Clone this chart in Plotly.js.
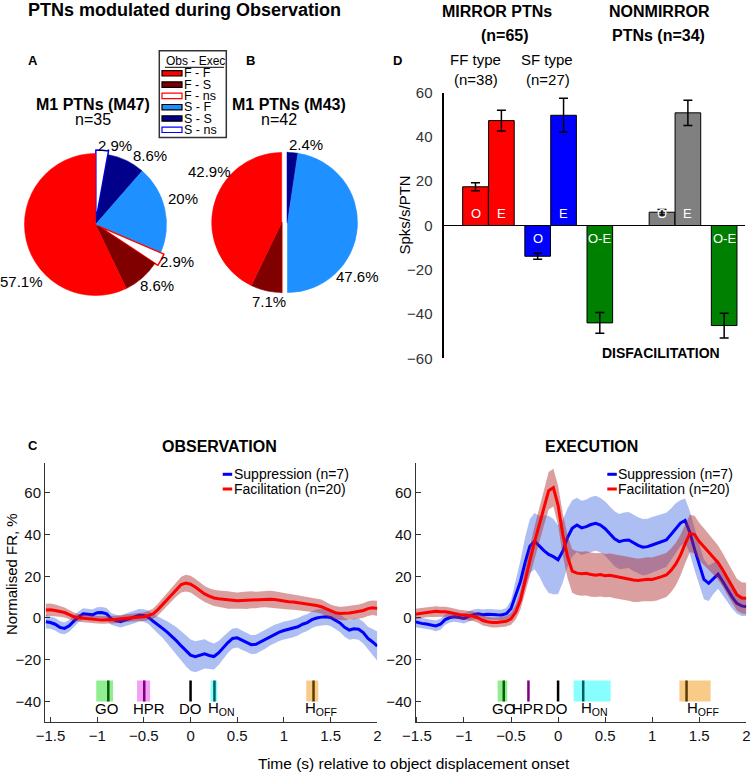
<!DOCTYPE html>
<html><head><meta charset="utf-8">
<script src="https://cdn.plot.ly/plotly-3.0.1.min.js"></script>
<style>html,body{margin:0;padding:0;background:#fff}#chart{width:753px;height:773px}</style>
</head><body><div id="chart"></div>
<script>
// ---------------- DATA ----------------
// Panels A/B: pie counts (Obs - Exec categories)
const pieLabels = ['F - F','F - S','F - ns','S - F','S - S','S - ns'];
const countsM47 = [20, 3, 1, 7, 3, 1];   // n=35
const countsM43 = [18, 3, 0, 20, 1, 0];  // n=42

// Panel D: mean firing change (spks/s/PTN) with SEM
const barLabels = ['O','E','O','E','O-E','O','E','O-E'];
const barSlots  = [1, 2, 3.4, 4.4, 5.8, 8.2, 9.2, 10.6];
const barValues = [17.5, 47.4, -13.9, 49.8, -44.0, 6.0, 50.9, -45.2];
const barErrors = [1.8, 4.7, 1.4, 7.7, 4.7, 1.2, 5.7, 5.6];

// Panel C: population averages (normalised FR, %)
const seriesNames = ['Suppression (n=7)', 'Facilitation (n=20)'];
const time = [-1.55,-1.50,-1.45,-1.40,-1.35,-1.30,-1.25,-1.20,-1.15,-1.10,-1.05,-1.00,-0.95,-0.90,-0.85,-0.80,-0.75,-0.70,-0.65,-0.60,
  -0.55,-0.50,-0.45,-0.40,-0.35,-0.30,-0.25,-0.20,-0.15,-0.10,-0.05,0.00,0.05,0.10,0.15,0.20,0.25,0.30,0.35,0.40,
  0.45,0.50,0.55,0.60,0.65,0.70,0.75,0.80,0.85,0.90,0.95,1.00,1.05,1.10,1.15,1.20,1.25,1.30,1.35,1.40,
  1.45,1.50,1.55,1.60,1.65,1.70,1.75,1.80,1.85,1.90,1.95,2.00];

const obsSupMean = [-1.8,-2.2,-3.0,-4.5,-5.0,-3.8,-1.5,0.5,2.0,1.6, 1.5,2.5,2.6,2.0,-0.4,-1.2,-1.8,-1.0,-0.2,0.5,
  1.3,1.2,0.3,-1.6,-3.5,-5.0,-6.8,-8.8,-11.0,-13.4, -15.8,-17.8,-18.6,-18.0,-17.2,-18.0,-18.5,-16.8,-14.2,-11.8,
  -9.8,-9.5,-10.6,-11.8,-12.8,-12.6,-11.4,-10.3,-8.8,-7.6, -6.8,-6.0,-5.5,-5.0,-4.2,-3.0,-2.2,-0.8,0.0,0.4,
  0.6,0.2,-1.0,-2.4,-4.5,-5.8,-5.2,-5.4,-7.0,-9.8, -11.5,-13.5];
const obsSupSem = [3.2,3.0,3.0,3.0,2.8,2.8,2.8,2.6,2.6,2.6, 2.6,2.6,2.6,2.8,2.8,2.8,2.8,3.0,3.0,3.0,
  3.0,3.0,3.2,3.5,4.0,4.5,5.2,6.0,6.6,7.0, 7.3,7.5,7.4,7.2,7.0,6.6,6.2,5.8,5.4,5.0,
  4.8,4.7,4.6,4.6,4.5,4.5,4.5,4.4,4.4,4.4, 4.3,4.3,4.2,4.2,4.2,4.1,4.0,4.0,4.0,4.0,
  4.0,4.0,4.1,4.3,4.5,4.7,4.9,5.0,5.2,5.6, 6.2,7.0];
const obsFacMean = [3.8,3.9,3.6,3.2,2.6,1.6,0.6,0.1,-0.2,-0.5, -0.7,-0.8,-1.0,-1.0,-0.9,-0.7,-0.4,-0.2,0.0,0.2,
  0.3,0.6,1.2,2.0,4.0,6.5,9.0,11.5,14.0,16.0, 16.7,16.2,14.8,13.0,11.5,10.5,9.6,9.2,9.0,8.6,
  8.5,8.3,8.4,8.5,8.7,8.6,8.9,9.1,9.0,8.8, 8.4,8.0,7.8,7.6,7.3,7.1,6.8,6.4,6.0,5.4,
  4.4,3.2,2.5,2.2,2.2,2.4,2.7,3.0,3.6,4.5, 4.9,4.6];
const obsFacSem = [3.0,3.0,2.8,2.6,2.4,2.2,2.0,1.8,1.8,1.8, 1.8,1.8,1.8,1.8,1.8,1.8,1.8,1.8,1.8,1.8,
  1.8,2.0,2.2,2.5,2.8,3.0,3.2,3.4,3.6,3.8, 4.0,4.0,4.0,3.9,3.8,3.8,3.9,4.0,4.1,4.2,
  4.0,3.9,4.0,4.2,4.1,4.0,3.9,4.0,4.1,4.0, 3.9,3.8,3.8,3.7,3.6,3.6,3.5,3.5,3.4,3.4,
  3.3,3.2,3.2,3.2,3.3,3.3,3.4,3.4,3.5,3.5, 3.5,3.6];

const exeSupMean = [-1.5,-2.2,-2.6,-2.9,-3.2,-3.8,-3.0,-0.8,0.2,0.6, 0.2,-0.2,0.8,1.6,2.0,1.6,1.8,1.8,1.5,1.4,
  2.0,4.5,10.5,17.5,26.7,34.4,36.8,34.5,32.3,30.5, 29.4,27.9,32.0,38.5,43.0,44.6,43.2,43.8,44.8,45.4,
  44.5,42.8,40.5,38.0,36.6,37.2,37.4,36.0,34.8,33.9, 34.2,35.0,35.8,36.6,37.4,40.0,43.0,45.5,46.8,41.0,
  33.0,25.5,18.5,16.6,19.0,21.0,17.5,13.6,10.0,7.0, 5.8,5.4];
const exeSupSem = [2.8,2.6,2.6,2.5,2.5,2.6,2.6,2.5,2.4,2.4, 2.4,2.4,2.4,2.4,2.4,2.5,2.5,2.5,2.5,2.5,
  2.8,4.0,7.0,10.0,12.0,13.0,13.5,14.5,17.0,18.5, 18.0,16.5,15.0,14.0,13.5,13.0,13.0,13.0,13.2,13.2,
  13.0,13.0,13.0,13.2,13.2,13.4,13.4,13.5,13.5,13.5, 13.4,13.4,13.2,13.0,13.0,12.5,12.0,11.0,10.5,10.2,
  10.0,10.0,9.5,8.5,7.5,7.0,6.5,6.0,5.5,5.0, 4.8,4.5];
const exeFacMean = [1.6,1.9,2.4,2.8,3.0,3.2,3.0,3.0,2.6,2.0, 1.6,1.4,1.1,0.8,0.0,-1.2,-1.8,-2.2,-2.2,-2.0,
  -1.6,-0.4,2.8,8.5,18.5,27.5,36.5,44.5,53.0,61.0, 62.5,54.0,40.0,29.5,22.5,21.5,21.2,21.4,20.8,20.5,
  20.8,20.3,20.5,20.0,19.6,19.2,18.8,18.2,18.0,18.4, 18.6,18.5,19.0,19.8,20.6,22.8,25.8,30.0,35.5,40.5,
  40.0,36.6,34.2,31.8,29.2,26.5,23.0,19.0,14.8,11.2, 9.6,9.4];
const exeFacSem = [2.6,2.6,2.5,2.5,2.5,2.4,2.4,2.4,2.4,2.3, 2.3,2.3,2.3,2.3,2.3,2.4,2.4,2.4,2.4,2.4,
  2.5,2.8,3.5,4.5,5.5,6.5,7.5,8.0,8.5,9.0, 9.0,9.5,10.0,10.2,10.4,10.5,10.5,10.6,10.6,10.5,
  10.5,10.4,10.4,10.5,10.6,10.6,10.5,10.5,10.4,10.4, 10.5,10.5,10.6,10.6,10.5,10.5,10.2,9.8,9.4,9.0,
  9.0,9.0,8.8,8.6,8.4,8.2,8.0,8.0,7.8,7.6, 7.5,7.5];

// Behavioural events (s): mean, and range
const eventNames = ['GO','HPR','DO','H<sub>ON</sub>','H<sub>OFF</sub>'];
const obsEventMean = [-0.881, -0.496, 0, 0.256, 1.317];
const obsEventLo   = [-1.010, -0.573, 0, 0.215, 1.239];
const obsEventHi   = [-0.830, -0.434, 0, 0.287, 1.368];
const exeEventMean = [-0.577, -0.315, 0, 0.267, 1.365];
const exeEventLo   = [-0.642, -0.318, 0, 0.165, 1.289];
const exeEventHi   = [-0.540, -0.312, 0, 0.558, 1.621];

// ---------------- STYLE ----------------
const W = 753, H = 773;
const X = v => v / W, Y = v => 1 - v / H;
const FONT = 'Liberation Sans, Arial, Helvetica, sans-serif';
const pieFill    = ['#ff0000','#800000','#ffffff','#1e90ff','#00008b','#ffffff'];
const pieEdge    = ['#ff0000','#800000','#ff0000','#1e90ff','#00008b','#0000ff'];
const pieEdgeW   = [0.6, 0.6, 1.5, 0.6, 0.6, 1.5];
const piePullA   = [0, 0, 0.05, 0, 0, 0.05];
const swatchEdge = ['#000000','#000000','#ff0000','#000000','#000000','#0000ff'];
const barColors  = ['#ff0000','#ff0000','#0000ff','#0000ff','#008000','#808080','#808080','#008000'];
const lineColors = ['#0000ff','#ff0000'];
const bandColors = ['rgba(60,100,225,0.42)','rgba(175,40,40,0.45)'];
const evFill = ['#90ee90','#f4a0f4','rgba(0,0,0,0)','#88ffff','#f8cc88'];
const evLine = ['#0a5a0a','#800080','#000000','#005f5f','#5a3c00'];
const obsLabelShift = [-2, 5, 0, 7, 7];
const exeLabelShift = [0, 0, -2, 11, 16];

function pctText(counts){
  const tot = counts.reduce((a,b)=>a+b,0);
  return counts.map(c => c ? (Math.round(c/tot*1000)/10) + '%' : '');
}
// slices are drawn clockwise from 12 o'clock in reversed order, so that
// the first category runs counter-clockwise from the top (as in the figure)
const rev = a => a.slice().reverse();

// ---------------- TRACES ----------------
const traces = [];
function pieTrace(counts, fills, edges, widths, pulls, cx, cy, half){
  return {type:'pie', labels: rev(pieLabels), values: rev(counts), sort:false, direction:'clockwise', rotation:0,
    marker:{colors: rev(fills), line:{color: rev(edges), width: rev(widths)}}, pull: rev(pulls),
    textinfo:'none', hoverinfo:'skip', showlegend:false,
    domain:{x:[X(cx-half), X(cx+half)], y:[Y(cy+half), Y(cy-half)]}};
}
// Pie A
traces.push(pieTrace(countsM47, pieFill, pieEdge, pieEdgeW, piePullA, 95.5, 224.5, 74.55));
// Pie B: F-half and S-half (S-half displaced to the right)
const isF = pieLabels.map(l => l[0] === 'F');
const noPull = pieLabels.map(() => 0);
traces.push(pieTrace(countsM43, pieFill.map((c,i)=> isF[i] ? c : 'rgba(0,0,0,0)'), pieEdge,
  pieEdgeW.map((w,i)=> isF[i] ? w : 0), noPull, 281.7, 222.5, 70));
traces.push(pieTrace(countsM43, pieFill.map((c,i)=> !isF[i] ? c : 'rgba(0,0,0,0)'), pieEdge,
  pieEdgeW.map((w,i)=> !isF[i] ? w : 0), noPull, 287.5, 222.5, 70));

// Panel D bars
traces.push({type:'bar', x: barSlots, y: barValues, width: 0.99, xaxis:'x3', yaxis:'y3',
  marker:{color: barColors, line:{color:'#000', width:1}},
  error_y:{type:'data', array: barErrors, visible:true, color:'#000', thickness:1.5, width:4.5},
  hoverinfo:'skip', showlegend:false});

// Panel C
function addPanel(means, sems, xa, ya){
  means.forEach((m, k) => {
    const s = sems[k];
    const up = m.map((v,i)=> v + s[i]);
    const lo = m.map((v,i)=> v - s[i]);
    traces.push({type:'scatter', mode:'lines', x: time.concat(rev(time)), y: up.concat(rev(lo)),
      fill:'toself', fillcolor: bandColors[k], line:{width:0}, xaxis:xa, yaxis:ya, hoverinfo:'skip', showlegend:false});
    traces.push({type:'scatter', mode:'lines', x: time, y: m, name: seriesNames[k], line:{color: lineColors[k], width:3},
      xaxis:xa, yaxis:ya, hoverinfo:'skip', showlegend:false});
  });
}
addPanel([obsSupMean, obsFacMean], [obsSupSem, obsFacSem], 'x', 'y');
addPanel([exeSupMean, exeFacMean], [exeSupSem, exeFacSem], 'x2', 'y2');

// ---------------- LAYOUT ----------------
const shapes = [];
const ann = [];
function A(text, x, y, size, opts){ ann.push(Object.assign({text, x:X(x), y:Y(y), xref:'paper', yref:'paper', showarrow:false,
  xanchor:'center', yanchor:'middle', borderpad:0, font:{size, color:'#000', family:FONT}}, opts||{})); }

// titles & labels
A('<b>PTNs modulated during Observation</b>', 184, 10, 18);
A('<b>A</b>', 33, 61, 13); A('<b>B</b>', 250, 61, 13);
A('<b>M1 PTNs (M47)</b>', 93.3, 104, 16); A('n=35', 92.5, 119.3, 16);
A('<b>M1 PTNs (M43)</b>', 289, 104, 16); A('n=42', 279, 119.3, 16);
A('<b>MIRROR PTNs</b>', 497.3, 11.7, 16); A('<b>(n=65)</b>', 504.7, 35.7, 16);
A('<b>NONMIRROR</b>', 659.3, 11.7, 16); A('<b>PTNs (n=34)</b>', 658, 35.7, 16);
A('FF type', 475.8, 59.3, 15); A('(n=38)', 475.8, 79, 15);
A('SF type', 547, 59.3, 15); A('(n=27)', 547.5, 79, 15);
A('<b>D</b>', 397.3, 60, 13);
A('<b>DISFACILITATION</b>', 660.5, 353.3, 14);
A('Spks/s/PTN', 404, 215.5, 15, {textangle:-90});
A('<b>C</b>', 32.7, 445, 13);
A('<b>OBSERVATION</b>', 219, 446.7, 16);
A('<b>EXECUTION</b>', 591.7, 446.7, 16);
A('Normalised FR, %', 11, 574, 15, {textangle:-90});
A('Time (s) relative to object displacement onset', 414, 763, 15.5);

// pie percentage labels
const pieLabelPosA = [[21.7,281.7],[156.5,285],[177,261.7],[183,198.8],[150,155],[115,145]];
const pieLabelPosB = [[209.2,172],[268.5,301.7],null,[357.5,276.7],[305.5,144.2],null];
pctText(countsM47).forEach((t,i)=>{ if(t) A(t, pieLabelPosA[i][0], pieLabelPosA[i][1], 15); });
pctText(countsM43).forEach((t,i)=>{ if(t && pieLabelPosB[i]) A(t, pieLabelPosB[i][0], pieLabelPosB[i][1], 15); });

// pie legend box
shapes.push({type:'rect', xref:'paper', yref:'paper', x0:X(159.3), x1:X(226.3), y0:Y(50.7), y1:Y(137.5),
  line:{color:'#333', width:1.5}, fillcolor:'#fff', layer:'above'});
A('Obs - Exec', 195.3, 61, 12);
shapes.push({type:'line', xref:'paper', yref:'paper', x0:X(165), x1:X(224), y0:Y(67.3), y1:Y(67.3), line:{color:'#000', width:1}});
pieLabels.forEach((lab,i)=>{
  const yc = 73.3 + i*11.3;
  shapes.push({type:'rect', xref:'paper', yref:'paper', x0:X(162), x1:X(182), y0:Y(yc+2.7), y1:Y(yc-2.7),
    fillcolor: pieFill[i], line:{color: swatchEdge[i], width:1.2}, layer:'above'});
  A(lab, 183, yc, 12.5, {xanchor:'left'});
});

// bar labels (inside bars near zero)
barLabels.forEach((t,i)=>{
  const pos = barValues[i] >= 0;
  ann.push({text:t, x: barSlots[i], y:0, xref:'x3', yref:'y3', showarrow:false, xanchor:'center', borderpad:0,
    yanchor: pos ? 'bottom' : 'top', yshift: pos ? 3 : -5, font:{size:13, color:'#fff', family:FONT}});
});

// events
function addEvents(mean, lo, hi, shift, xref, yref){
  eventNames.forEach((nm,i)=>{
    if (hi[i] > lo[i]) shapes.push({type:'rect', xref, yref, x0: lo[i], x1: hi[i], y0:-40, y1:-30,
      fillcolor: evFill[i], line:{width:0}, layer:'below'});
    shapes.push({type:'line', xref, yref, x0: mean[i], x1: mean[i], y0:-40, y1:-30, line:{color: evLine[i], width:2.5}});
    ann.push({text: nm, x: mean[i], y:-43.6, xref, yref, showarrow:false, xanchor:'center', yanchor:'middle', borderpad:0,
      xshift: shift[i], font:{size:15, color:'#000', family:FONT}});
  });
}
addEvents(obsEventMean, obsEventLo, obsEventHi, obsLabelShift, 'x', 'y');
addEvents(exeEventMean, exeEventLo, exeEventHi, exeLabelShift, 'x2', 'y2');

// panel C legends
[[222.7, 233], [607.3, 617]].forEach(([dx, tx]) => {
  seriesNames.forEach((nm,k)=>{
    const yc = 474.3 + k*14.7;
    shapes.push({type:'line', xref:'paper', yref:'paper', x0:X(dx), x1:X(dx+9.5), y0:Y(yc), y1:Y(yc), line:{color: lineColors[k], width:3}});
    A(nm, tx, yc, 14, {xanchor:'left'});
  });
});

const cAxisX = {showline:true, linecolor:'#333', linewidth:1, ticks:'inside', ticklen:5, tickcolor:'#333',
  dtick:0.5, tick0:0, showgrid:false, zeroline:false, tickfont:{size:15, color:'#111', family:FONT}, fixedrange:true};
const cAxisY = {showline:true, linecolor:'#333', linewidth:1, ticks:'inside', ticklen:5, tickcolor:'#333',
  dtick:20, tick0:0, range:[-50, 74.3], domain:[Y(722.25), Y(463)], showgrid:false, zeroline:false,
  tickfont:{size:15, color:'#111', family:FONT}, fixedrange:true};

const layout = {
  width: W, height: H, margin:{l:0, r:0, t:0, b:0}, paper_bgcolor:'#fff', plot_bgcolor:'rgba(0,0,0,0)',
  font:{family:FONT, color:'#000'}, showlegend:false,
  xaxis: Object.assign({}, cAxisX, {domain:[X(45), X(377.3)], range:[-1.559, 2.0], anchor:'y'}),
  yaxis: Object.assign({}, cAxisY, {anchor:'x'}),
  xaxis2: Object.assign({}, cAxisX, {domain:[X(415.7), X(746.3)], range:[-1.513, 2.0], anchor:'y2'}),
  yaxis2: Object.assign({}, cAxisY, {anchor:'x2'}),
  xaxis3: {domain:[X(444), X(745)], range:[-0.216, 11.405], visible:false, anchor:'y3', fixedrange:true},
  yaxis3: {domain:[Y(358.3), Y(92.7)], range:[-60, 60], anchor:'x3', dtick:20, showline:true, linecolor:'#000', linewidth:2.5,
    ticks:'', showgrid:false, zeroline:true, zerolinecolor:'#000', zerolinewidth:1, ticklabelstandoff:6,
    tickfont:{size:15, color:'#333', family:FONT}, fixedrange:true},
  shapes: shapes, annotations: ann
};

Plotly.newPlot('chart', traces, layout, {displayModeBar:false, staticPlot:true});
</script>
</body></html>
